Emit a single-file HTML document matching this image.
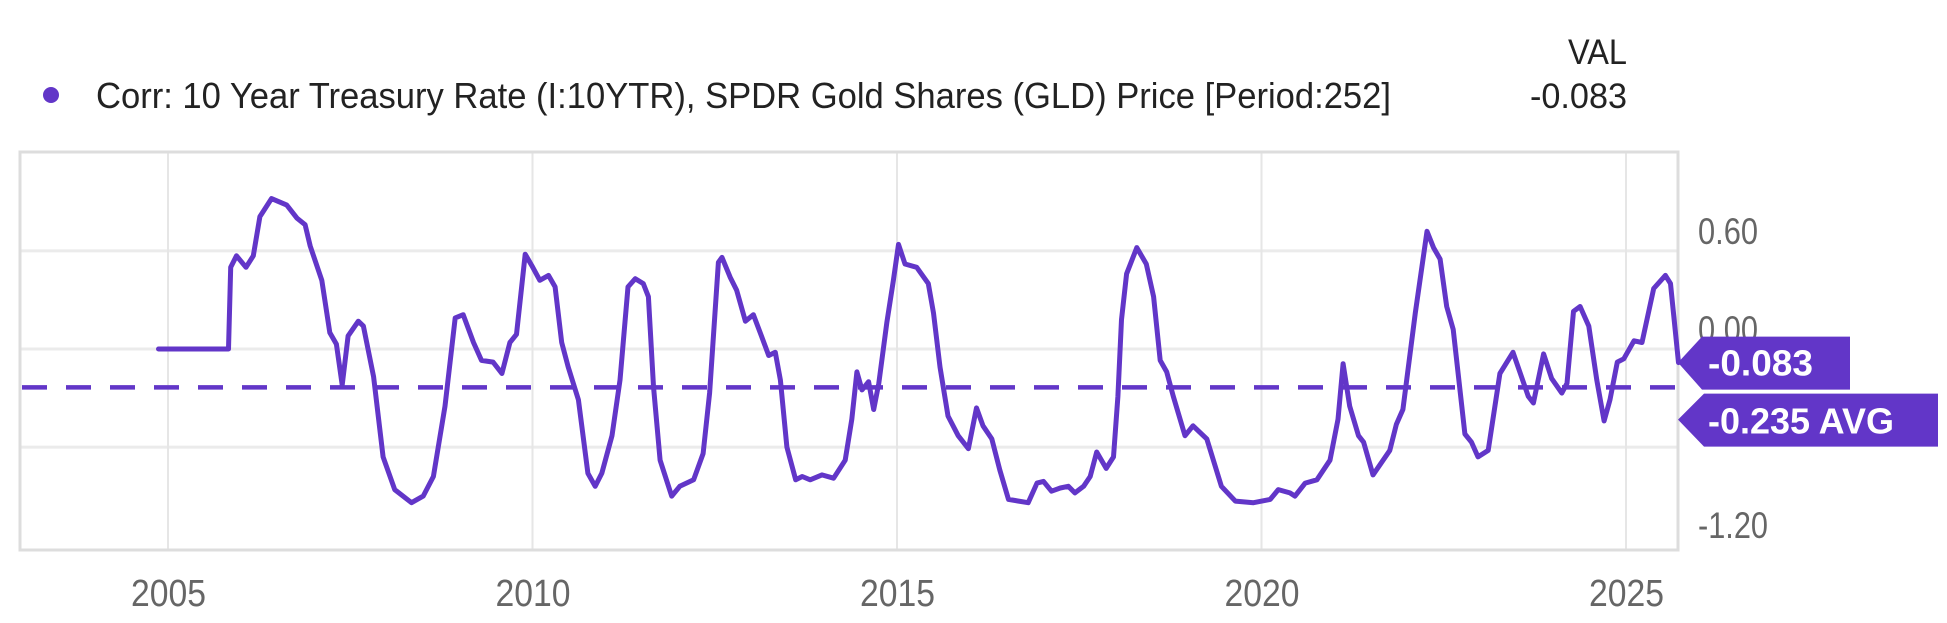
<!DOCTYPE html>
<html><head><meta charset="utf-8"><style>
html,body{margin:0;padding:0;background:#fff;}
svg{display:block;font-family:"Liberation Sans",sans-serif;}
</style></head><body>
<svg id="chart" width="1947" height="623" viewBox="0 0 1947 623" xmlns="http://www.w3.org/2000/svg">
<g>
<circle cx="51" cy="95" r="8" fill="#6236c8"/>
<text x="96" y="108" font-size="36" fill="#222" textLength="1295" lengthAdjust="spacingAndGlyphs">Corr: 10 Year Treasury Rate (I:10YTR), SPDR Gold Shares (GLD) Price [Period:252]</text>
<text x="1568" y="64" font-size="35" fill="#222" textLength="59" lengthAdjust="spacingAndGlyphs">VAL</text>
<text x="1530" y="108" font-size="35" fill="#222" textLength="97" lengthAdjust="spacingAndGlyphs">-0.083</text>
</g>
<g id="grid"></g>
<g id="series"></g>
<g id="labels"></g>
<g id="badges"></g>
</svg>
<script>
const years = [2004.87,2005.83,2005.86,2005.94,2006.07,2006.17,2006.26,2006.42,2006.63,2006.77,2006.88,2006.95,2007.11,2007.22,2007.31,2007.39,2007.47,2007.61,2007.68,2007.82,2007.95,2008.11,2008.34,2008.50,2008.64,2008.80,2008.94,2009.05,2009.19,2009.30,2009.46,2009.58,2009.69,2009.78,2009.90,2009.99,2010.10,2010.22,2010.31,2010.40,2010.49,2010.63,2010.76,2010.86,2010.95,2011.09,2011.20,2011.31,2011.41,2011.52,2011.59,2011.66,2011.75,2011.91,2012.02,2012.21,2012.34,2012.43,2012.55,2012.60,2012.71,2012.80,2012.92,2013.03,2013.14,2013.24,2013.33,2013.40,2013.49,2013.61,2013.70,2013.81,2013.97,2014.13,2014.29,2014.38,2014.45,2014.52,2014.61,2014.68,2014.75,2014.86,2014.95,2015.02,2015.11,2015.27,2015.43,2015.50,2015.59,2015.70,2015.84,2015.98,2016.09,2016.18,2016.30,2016.41,2016.53,2016.80,2016.92,2017.01,2017.12,2017.24,2017.35,2017.44,2017.56,2017.65,2017.74,2017.87,2017.97,2018.03,2018.08,2018.15,2018.29,2018.42,2018.52,2018.61,2018.70,2018.79,2018.95,2019.06,2019.25,2019.45,2019.64,2019.89,2020.12,2020.23,2020.39,2020.46,2020.60,2020.76,2020.94,2021.05,2021.12,2021.21,2021.33,2021.40,2021.53,2021.76,2021.85,2021.94,2022.11,2022.27,2022.36,2022.45,2022.54,2022.63,2022.79,2022.88,2022.97,2023.11,2023.27,2023.45,2023.66,2023.73,2023.87,2023.98,2024.12,2024.19,2024.28,2024.37,2024.49,2024.60,2024.70,2024.78,2024.88,2024.97,2025.11,2025.22,2025.38,2025.54,2025.61,2025.72];
const values = [0,0,0.50,0.57,0.50,0.57,0.81,0.92,0.88,0.80,0.76,0.63,0.42,0.10,0.03,-0.22,0.08,0.17,0.14,-0.17,-0.66,-0.86,-0.94,-0.90,-0.78,-0.35,0.19,0.21,0.04,-0.07,-0.08,-0.15,0.04,0.09,0.58,0.51,0.42,0.45,0.38,0.04,-0.11,-0.31,-0.76,-0.84,-0.76,-0.53,-0.19,0.38,0.43,0.40,0.32,-0.23,-0.68,-0.90,-0.84,-0.80,-0.64,-0.27,0.53,0.56,0.44,0.36,0.17,0.21,0.08,-0.04,-0.02,-0.19,-0.60,-0.80,-0.78,-0.80,-0.77,-0.79,-0.68,-0.43,-0.14,-0.25,-0.20,-0.37,-0.21,0.16,0.42,0.64,0.52,0.50,0.40,0.22,-0.11,-0.41,-0.53,-0.61,-0.36,-0.47,-0.55,-0.74,-0.92,-0.94,-0.82,-0.81,-0.87,-0.85,-0.84,-0.88,-0.84,-0.78,-0.63,-0.73,-0.66,-0.29,0.18,0.46,0.62,0.52,0.32,-0.07,-0.14,-0.29,-0.53,-0.47,-0.55,-0.84,-0.93,-0.94,-0.92,-0.86,-0.88,-0.90,-0.82,-0.80,-0.68,-0.43,-0.09,-0.35,-0.53,-0.57,-0.77,-0.62,-0.46,-0.37,0.22,0.72,0.62,0.55,0.26,0.12,-0.52,-0.57,-0.66,-0.62,-0.15,-0.02,-0.29,-0.33,-0.03,-0.18,-0.27,-0.21,0.23,0.26,0.14,-0.19,-0.44,-0.31,-0.08,-0.06,0.05,0.04,0.37,0.45,0.40,-0.083];
const avgValue = [-0.235];
const lastValue = [-0.083];
const yTicks = [0.6, 0, -0.6, -1.2];
const yTickLabels = ["0.60","0.00","-0.60","-1.20"];
const xTicks = [2005, 2010, 2015, 2020, 2025];
const xTickLabels = ["2005","2010","2015","2020","2025"];

const NS = "http://www.w3.org/2000/svg";
const PL = 20, PR = 1678, PT = 152, PB = 550;
function xs(yr){ return 168 + (yr - 2005) * 72.9; }
function ys(v){ return 349 - v * 163.5; }
function mk(tag, attrs, parent){ const e = document.createElementNS(NS, tag); for (const k in attrs) e.setAttribute(k, attrs[k]); parent.appendChild(e); return e; }
function tw(s){ let w = 0; for (const c of s) w += (c === '.') ? 9 : (c === '-') ? 10 : 17; return w; }

const grid = document.getElementById('grid');
const series = document.getElementById('series');
const labels = document.getElementById('labels');
const badges = document.getElementById('badges');

yTicks.forEach((t, i) => {
  if (t <= -1.2) return;
  const l = mk('line', {x1: PL, x2: PR, y1: ys(t), y2: ys(t), stroke: '#ebebeb', 'stroke-width': 3}, grid);
  
  
});
xTicks.forEach(t => {
  const l = mk('line', {x1: xs(t), x2: xs(t), y1: PT, y2: PB, stroke: '#e6e6e6', 'stroke-width': 2}, grid);
  
  
});
const frame = mk('rect', {x: PL, y: PT, width: PR - PL, height: PB - PT, fill: 'none', stroke: '#dddddd', 'stroke-width': 3}, grid);



const avg = mk('line', {x1: PL + 2, x2: PR, y1: ys(avgValue[0]), y2: ys(avgValue[0]), stroke: '#6236c8', 'stroke-width': 4.5, 'stroke-dasharray': '25 19'}, series);



let d = '';
years.forEach((yr, i) => { d += (i ? 'L' : 'M') + xs(yr).toFixed(1) + ' ' + ys(values[i]).toFixed(1); });
const line = mk('path', {d: d, fill: 'none', stroke: '#6236c8', 'stroke-width': 5, 'stroke-linejoin': 'round', 'stroke-linecap': 'round'}, series);



yTicks.forEach((t, i) => {
  const tx = mk('text', {x: 1698, y: ys(t) - 7, 'font-size': 37, fill: '#666', textLength: tw(yTickLabels[i]), lengthAdjust: 'spacingAndGlyphs'}, labels);
  tx.textContent = yTickLabels[i];
  
  
});
xTicks.forEach((t, i) => {
  const tx = mk('text', {x: xs(t) - 37, y: 606, 'font-size': 38, fill: '#666', textLength: 75, lengthAdjust: 'spacingAndGlyphs'}, labels);
  tx.textContent = xTickLabels[i];
  
  
});

const ly = ys(lastValue[0]);
const b1 = mk('polygon', {points: `${PR},${ly} ${PR+24},${ly-26} 1850,${ly-26} 1850,${ly+27} ${PR+24},${ly+27}`, fill: '#6236c8'}, badges);


const t1 = mk('text', {x: 1708, y: ly + 13, 'font-size': 36, 'font-weight': 'bold', fill: '#fff', textLength: 105, lengthAdjust: 'spacingAndGlyphs'}, badges);
t1.textContent = lastValue[0].toFixed(3);


const ay = ly + 57;
const b2 = mk('polygon', {points: `${PR},${ay} ${PR+26},${ay-26} 1938,${ay-26} 1938,${ay+27} ${PR+26},${ay+27}`, fill: '#6236c8'}, badges);


const t2 = mk('text', {x: 1708, y: ay + 14, 'font-size': 36, 'font-weight': 'bold', fill: '#fff', textLength: 186, lengthAdjust: 'spacingAndGlyphs'}, badges);
t2.textContent = avgValue[0].toFixed(3) + ' AVG';


</script>
</body></html>
